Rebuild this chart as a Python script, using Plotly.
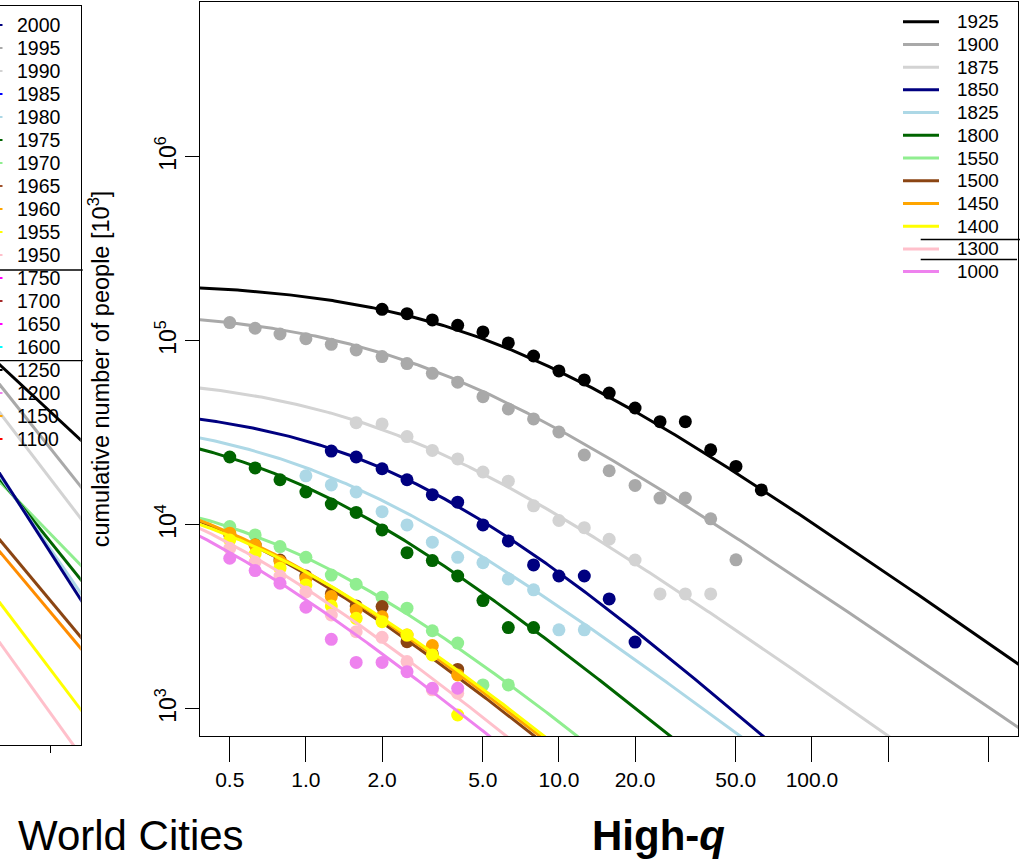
import numpy as np
import plotly.graph_objects as go

W, H = 1020, 862
FONT = "Liberation Sans, Arial, Helvetica, sans-serif"

# ---------------- High-q panel data ----------------
years = ["1925", "1900", "1875", "1850", "1825", "1800",
         "1550", "1500", "1450", "1400", "1300", "1000"]
colors = ["#000000", "#A9A9A9", "#D3D3D3", "#000080", "#ADD8E6", "#006400",
          "#90EE90", "#8B4513", "#FFA500", "#FFFF00", "#FFC0CB", "#EE82EE"]

# log-spaced size bins (0.1 decade apart)
bins = [0.5, 0.63, 0.79, 1.0, 1.26, 1.58, 2.0, 2.51, 3.16, 3.98, 5.01,
        6.31, 7.94, 10.0, 12.6, 15.8, 20.0, 25.1, 31.6, 39.8, 50.1, 63.1]

# cumulative number of people [10^3] per bin, one list per year
n_1925 = [148600, 140600, 130000, 121600, 111900, 97500, 82800, 68700,
          61400, 52100, 43200, 36400, 36400, 25600, 20800, 15500]
n_1900 = [125800, 117200, 109100, 102900, 95900, 89300, 82200, 75300, 66700,
          59700, 49800, 42700, 37700, 32000, 24000, 19700, 16400, 14000,
          14000, 10800, 6460]
n_1875 = [35970, 35400, 30200, 25400, 22850, 19400, 17300, 12700, 10570,
          9660, 8360, 6450, 4220, 4220, 4220]
n_1850 = [25200, 23400, 20200, 17600, 14600, 13300, 10000, 8190, 6060, 5280,
          5280, 3960, 2310]
n_1825 = [18500, 16500, 15100, 11800, 10000, 8060, 6670, 6240, 5090, 4440,
          2690, 2690]
n_1800 = [23400, 20400, 17600, 15100, 13000, 11700, 9400, 7070, 6400, 5280,
          3880, 2770, 2770]
n_1550 = [9800, 8830, 7630, 6670, 5340, 4760, 4050, 3530, 2660, 2280, 1350,
          1350]
n_1500 = [8900, 7780, 6450, 5280, 4220, 3630, 3600, 2320, 1990, 1640]
n_1450 = [9020, 7780, 6320, 5130, 4080, 3450, 3175, 2520, 2210, 1530]
n_1400 = [8280, 6950, 5820, 4720, 3630, 3110, 2980, 2520, 1965, 927]
n_1300 = [7470, 6290, 5280, 4320, 3240, 2630, 2450, 1810, 1270, 1217]
n_1000 = [6590, 5650, 4820, 3570, 2390, 1790, 1790, 1595, 1296, 1296]
counts = [n_1925, n_1900, n_1875, n_1850, n_1825, n_1800,
          n_1550, n_1500, n_1450, n_1400, n_1300, n_1000]
first_bin = [6, 0, 5, 4, 3, 0, 0, 0, 0, 0, 0, 0]

# fitted q-exponential parameters: N(x) = A * (1 + x/x0)^(-a)
fit_A = [210500, 149300, 66300, 46100, 41000, 40200,
         17400, 22300, 21700, 18900, 25900, 26600]
fit_x0 = [4.5, 2.5, 1.9, 2.05, 1.04, 0.8, 0.744, 0.40, 0.43, 0.51, 0.27, 0.225]
fit_a = [0.96, 0.94, 0.97, 1.2, 1.03, 1.13, 1.13, 1.13, 1.13, 1.13, 1.13, 1.13]

x_ticks = [0.5, 1, 2, 5, 10, 20, 50, 100]
x_ticktext = ["0.5", "1.0", "2.0", "5.0", "10.0", "20.0", "50.0", "100.0"]
x_minor_ticks = [200, 500]
y_ticks = [1e3, 1e4, 1e5, 1e6]
y_ticktext = ["10<sup>3</sup>", "10<sup>4</sup>", "10<sup>5</sup>", "10<sup>6</sup>"]

# ---------------- World Cities panel (right edge only) ----------------
wc_labels = ["2000", "1995", "1990", "1985", "1980", "1975", "1970", "1965",
             "1960", "1955", "1950", "1750", "1700", "1650", "1600", "1250",
             "1200", "1150", "1100"]
wc_key_colors = ["#000080", "#A9A9A9", "#D3D3D3", "#0000FF", "#ADD8E6",
                 "#006400", "#90EE90", "#A0522D", "#FFA500", "#FFFF00",
                 "#FFC0CB", "#FF00FF", "#A52A2A", "#FF00FF", "#00FFFF",
                 "#000000", "#EE82EE", "#FFA500", "#FF0000"]
wc_line_colors = ["#000000", "#A9A9A9", "#D3D3D3", "#90EE90", "#006400",
                  "#ADD8E6", "#000080", "#8B4513", "#FF8C00", "#FFFF00",
                  "#FFC0CB"]
wc_x = [600, 1350]
wc_y_start = [78100, 62200, 43950, 18190, 19160, 20170, 20830, 8900, 7660,
              4080, 2486]
wc_y_end = [27700, 15290, 10250, 5770, 4780, 4005, 3680, 2330, 2025, 937, 527]
wc_minor_ticks = [1000]

fig = go.Figure()

# left panel lines
for c, y0, y1 in zip(wc_line_colors, wc_y_start, wc_y_end):
    fig.add_trace(go.Scatter(x=wc_x, y=[y0, y1], mode="lines",
                             line=dict(color=c, width=3),
                             xaxis="x2", yaxis="y2", showlegend=False,
                             hoverinfo="skip"))

# main panel: fitted curves and binned data
xs_fit = np.logspace(-0.5, 2.9, 400)
for i, yr in enumerate(years):
    ys_fit = fit_A[i] * (1 + xs_fit / fit_x0[i]) ** (-fit_a[i])
    fig.add_trace(go.Scatter(x=xs_fit, y=ys_fit, mode="lines", name=yr,
                             line=dict(color=colors[i], width=3),
                             showlegend=False, hoverinfo="skip"))
    pts = counts[i]
    xs = bins[first_bin[i]:first_bin[i] + len(pts)]
    fig.add_trace(go.Scatter(x=xs, y=pts, mode="markers", name=yr,
                             marker=dict(color=colors[i], size=13, line=dict(width=0)),
                             showlegend=False))


def px(x):
    return x / W


def py(y):
    return 1 - y / H


shapes = []
annotations = []

# main legend
for i, yr in enumerate(years):
    yy = 21.7 + 22.72 * i
    shapes.append(dict(type="line", xref="paper", yref="paper",
                       x0=px(903), x1=px(939), y0=py(yy), y1=py(yy),
                       line=dict(color=colors[i], width=3)))
    annotations.append(dict(text=yr, xref="paper", yref="paper", x=px(955),
                            y=py(yy), xanchor="left", yanchor="middle",
                            showarrow=False, font=dict(size=18.8, color="black")))
# frames of overlapping legends
for yy, x1 in [(239.5, 1020), (259.5, 1017)]:
    shapes.append(dict(type="line", xref="paper", yref="paper",
                       x0=px(920.7), x1=px(x1), y0=py(yy), y1=py(yy),
                       line=dict(color="black", width=1.3)))

# left legend
for i, (lab, c) in enumerate(zip(wc_labels, wc_key_colors)):
    yy = 25 + 23.0 * i
    shapes.append(dict(type="line", xref="paper", yref="paper",
                       x0=0, x1=px(2.5), y0=py(yy), y1=py(yy),
                       line=dict(color=c, width=2)))
    annotations.append(dict(text=lab, xref="paper", yref="paper", x=px(15),
                            y=py(yy), xanchor="left", yanchor="middle",
                            showarrow=False, font=dict(size=19.5, color="black")))
for yy in [270, 360.7]:
    shapes.append(dict(type="line", xref="paper", yref="paper",
                       x0=0, x1=px(82.7), y0=py(yy), y1=py(yy),
                       line=dict(color="black", width=1.3)))

annotations.append(dict(text="World Cities", xref="paper", yref="paper",
                        x=px(16), y=py(835), xanchor="left", yanchor="middle",
                        showarrow=False, font=dict(size=42, color="black")))
annotations.append(dict(text="<b>High-<i>q</i></b>", xref="paper", yref="paper",
                        x=px(658.5), y=py(835), xanchor="center", yanchor="middle",
                        showarrow=False, font=dict(size=42, color="black")))

fig.update_layout(
    width=W, height=H,
    margin=dict(l=0, r=0, t=0, b=0),
    paper_bgcolor="white", plot_bgcolor="white",
    font=dict(family=FONT, color="black"),
    showlegend=False,
    shapes=shapes, annotations=annotations,
    xaxis=dict(type="log", range=[-0.4186, 2.8146],
               domain=[200 / W, 1018 / W], anchor="y",
               tickvals=x_ticks, ticktext=x_ticktext,
               ticks="outside", ticklen=25, tickwidth=1.3, tickcolor="black",
               minor=dict(tickvals=x_minor_ticks, ticks="outside", ticklen=25,
                          tickwidth=1.3, tickcolor="black", showgrid=False),
               showline=True, mirror=True, linecolor="black", linewidth=1.3,
               showgrid=False, zeroline=False,
               tickfont=dict(size=21, color="black")),
    yaxis=dict(type="log", range=[2.853, 6.842],
               domain=[1 - 736 / H, 1 - 2 / H], anchor="x",
               tickvals=y_ticks, ticktext=y_ticktext, tickangle=-90,
               ticks="outside", ticklen=14, tickwidth=1.3, tickcolor="black",
               showline=True, mirror=True, linecolor="black", linewidth=1.3,
               showgrid=False, zeroline=False,
               tickfont=dict(size=23, color="black"),
               title=dict(text="cumulative number of people [10<sup>3</sup>]",
                          font=dict(size=23.5, color="black"), standoff=34)),
    xaxis2=dict(type="log", range=[2.7996, 3.1186],
                domain=[0, 80.7 / W], anchor="y2",
                tickvals=[], ticks="",
                minor=dict(tickvals=wc_minor_ticks, ticks="outside", ticklen=7,
                           tickwidth=1.3, tickcolor="black", showgrid=False),
                showline=True, mirror=True, linecolor="black", linewidth=1.3,
                showgrid=False, zeroline=False, showticklabels=False),
    yaxis2=dict(type="log", range=[2.8, 6.818],
                domain=[1 - 745 / H, 1 - 5.7 / H], anchor="x2", side="right",
                showticklabels=False, ticks="",
                showline=True, linecolor="black", linewidth=1.3,
                showgrid=False, zeroline=False),
)

fig.write_html("out.html")
